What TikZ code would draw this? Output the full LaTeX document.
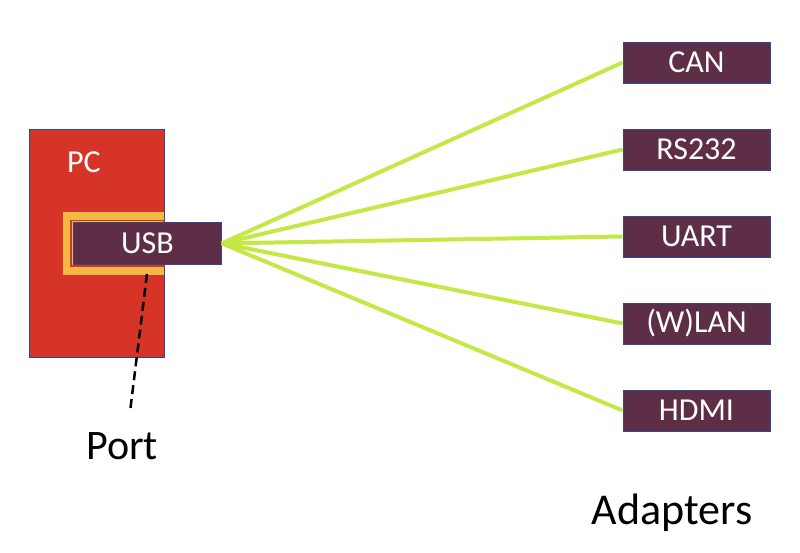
\documentclass[tikz,border=0pt]{standalone}
\usepackage{fontspec}
\setmainfont{Carlito}
\definecolor{pcred}{RGB}{214,52,38}
\definecolor{boxplum}{RGB}{94,45,70}
\definecolor{portorange}{RGB}{244,185,66}
\definecolor{edgeblue}{RGB}{47,72,150}
\definecolor{linkgreen}{RGB}{196,232,70}
\begin{document}
\begin{tikzpicture}[x=1pt,y=-1pt,
  adapter/.style={draw=edgeblue,line width=0.8pt,fill=boxplum,text=white,minimum width=147pt,minimum height=41pt,inner sep=0pt,font=\fontsize{32}{36}\selectfont},
  link/.style={linkgreen,line width=4pt},
  bigtext/.style={font=\fontsize{42}{46}\selectfont,text=black}]
\useasboundingbox (0,0) rectangle (800,553);
% PC
\node[draw=edgeblue,line width=0.8pt,fill=pcred,minimum width=135pt,minimum height=228pt,inner sep=0pt,anchor=north west] (pc) at (29,129) {};
\node[text=white,font=\fontsize{32}{36}\selectfont] (pclabel) at (84,162) {PC};
% port frame
\node[fill=portorange,minimum width=101pt,minimum height=63pt,inner sep=0pt,anchor=north west] (frame) at (63,212) {};
\draw[pcred,line width=1.5pt] (71,220.5) rectangle (164,266);
% USB
\node[adapter,minimum width=148pt,minimum height=42pt,anchor=north west] (usb) at (73,222) {USB};
% adapters
\node[adapter] (can) at (696.5,62.5) {CAN};
\node[adapter] (rs) at (696.5,149.5) {RS232};
\node[adapter] (uart) at (696.5,236.5) {UART};
\node[adapter] (wlan) at (696.5,323.5) {(W)LAN};
\node[adapter] (hdmi) at (696.5,410.5) {HDMI};
% links
\foreach \t in {can,rs,uart,wlan,hdmi}
  \draw[link] (usb.east) -- (\t.west);
% port pointer
\coordinate (ptop) at (147,274);
\node[bigtext] (port) at (122,446) {Port};
\draw[black,line width=2.5pt,dash pattern=on 9pt off 5pt] (ptop) -- (130,412);
\node[bigtext,font=\fontsize{44}{48}\selectfont] (adapters) at (672,513) {Adapters};
\end{tikzpicture}
\end{document}
